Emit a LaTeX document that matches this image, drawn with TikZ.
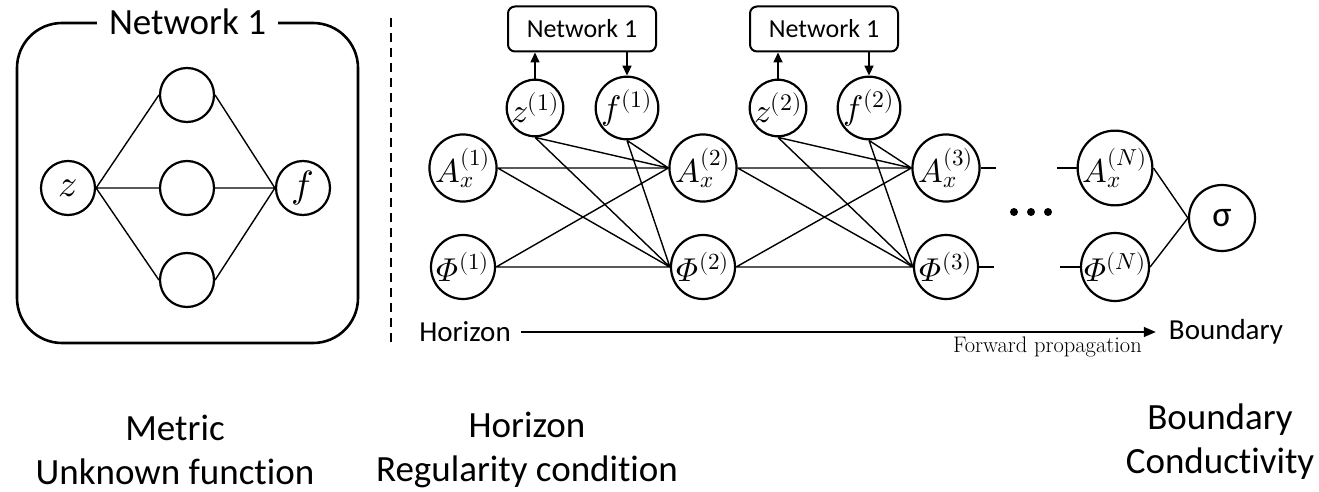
\documentclass[tikz,border=0pt]{standalone}
\usepackage{fontspec}
\usepackage{unicode-math}
\newfontfamily\sanslabel{Carlito}[Ligatures=NoCommon]
\usetikzlibrary{arrows.meta,positioning,calc}

\begin{document}
\begin{tikzpicture}[x=1pt, y=-1pt,
    neuron/.style={draw, circle, line width=2.2pt, minimum size=54pt, inner sep=0pt, font=\fontsize{34}{38}\selectfont},
    layer/.style={draw, circle, line width=2.2pt, minimum size=64pt, inner sep=0pt, font=\fontsize{33}{36}\selectfont},
    netbox/.style={draw, rectangle, rounded corners=7pt, line width=2pt, minimum width=148pt, minimum height=45pt, font=\sanslabel\fontsize{26}{30}\selectfont},
    link/.style={line width=1.4pt},
    feed/.style={line width=1.6pt, -{Triangle[length=10pt, width=9pt]}},
    capline/.style={font=\sanslabel\fontsize{37}{44}\selectfont, align=center}]
    \useasboundingbox (0,0) rectangle (1319,492);

    \node (panel) [draw, rectangle, rounded corners=45pt, line width=2.6pt, minimum width=341pt, minimum height=320pt] at (187.5,183) {};
    \node (paneltitle) [fill=white, inner xsep=12pt, font=\sanslabel\fontsize{37}{40}\selectfont] at (panel.north) {Network 1};
    \node (z) [neuron, font=\fontsize{38}{40}\selectfont] at (68,188) {$z$};
    \node (h1) [neuron] at (187,95) {};
    \node (h2) [neuron] at (187,188) {};
    \node (h3) [neuron] at (187,280) {};
    \node (f) [neuron, font=\fontsize{38}{40}\selectfont] at (303,188) {$f$};

    \draw [link] (z.east) -- (h1.west) (z.east) -- (h2.west) (z.east) -- (h3.west);
    \draw [link] (h1.east) -- (f.west) (h2.east) -- (f.west) (h3.east) -- (f.west);

    \coordinate (sepTop) at (391,18);
    \coordinate (sepBottom) at (391,343);
    \draw [dashed, line width=1.3pt, dash pattern=on 9pt off 6pt] (sepTop) -- (sepBottom);

    \node (net1) [netbox] at (582,29) {Network 1};
    \node (net2) [netbox] at (824,29) {Network 1};
    \node (z1) [neuron] at (535,108) {$z^{(1)}$};
    \node (f1) [neuron] at (627,108) {$f^{(1)}$};
    \node (z2) [neuron] at (778,108) {$z^{(2)}$};
    \node (f2) [neuron] at (869,108) {$f^{(2)}$};

    \node (a1) [layer] at (463,168) {$A_x^{(1)}$};
    \node (p1) [layer] at (463,267) {$\symit{\Phi}^{(1)}$};
    \node (a2) [layer] at (703,168) {$A_x^{(2)}$};
    \node (p2) [layer] at (703,267) {$\symit{\Phi}^{(2)}$};
    \node (a3) [layer] at (946,168) {$A_x^{(3)}$};
    \node (p3) [layer] at (946,267) {$\symit{\Phi}^{(3)}$};
    \node (an) [layer] at (1115,168) {$A_x^{(N)}$};
    \node (pn) [layer] at (1115,267) {$\symit{\Phi}^{(N)}$};
    \node (sigma) [layer, minimum size=66pt, font=\sanslabel\fontsize{36}{40}\selectfont] at (1222,218) {σ};

    \draw [feed] (z1.north) -- (z1.north |- net1.south);
    \draw [feed] (f1.north |- net1.south) -- (f1.north);
    \draw [feed] (z2.north) -- (z2.north |- net2.south);
    \draw [feed] (f2.north |- net2.south) -- (f2.north);

    \draw [link] (a1.east) -- (a2.west) (a1.east) -- (p2.west) (p1.east) -- (a2.west) (p1.east) -- (p2.west);
    \draw [link] (z1.south) -- (a2.west) (z1.south) -- (p2.west) (f1.south) -- (a2.west) (f1.south) -- (p2.west);
    \draw [link] (a2.east) -- (a3.west) (a2.east) -- (p3.west) (p2.east) -- (a3.west) (p2.east) -- (p3.west);
    \draw [link] (z2.south) -- (a3.west) (z2.south) -- (p3.west) (f2.south) -- (a3.west) (f2.south) -- (p3.west);

    \draw [link] (a3.east) -- ++(15,0);
    \draw [link] (p3.east) -- ++(15,0);
    \draw [link] (an.west) -- ++(-20,0);
    \draw [link] (pn.west) -- ++(-20,0);
    \foreach \dx in {1014,1031,1048}
        \fill (\dx,212) circle (4pt);
    \draw [link] (an.east) -- (sigma.west) (pn.east) -- (sigma.west);

    \node (horizon) [font=\sanslabel\fontsize{29}{32}\selectfont, inner sep=4pt] at (465,332) {Horizon};
    \node (boundary) [font=\sanslabel\fontsize{29}{32}\selectfont, inner sep=4pt] at (1226,332) {Boundary};
    \draw [line width=1.5pt, -{Triangle[length=12pt, width=10pt]}, shorten <=6pt, shorten >=9pt] (horizon.east) -- (boundary.west);
    \node (forward) [anchor=east, font=\fontsize{22.5}{24}\selectfont, inner sep=0pt] at (1142,347) {Forward propagation};

    \node (metric) [capline] at (175,450) {Metric\\Unknown function};
    \node (regular) [capline] at (527,450) {Horizon\\Regularity condition};
    \node (conduct) [capline] at (1220,442) {Boundary\\Conductivity};
\end{tikzpicture}
\end{document}
